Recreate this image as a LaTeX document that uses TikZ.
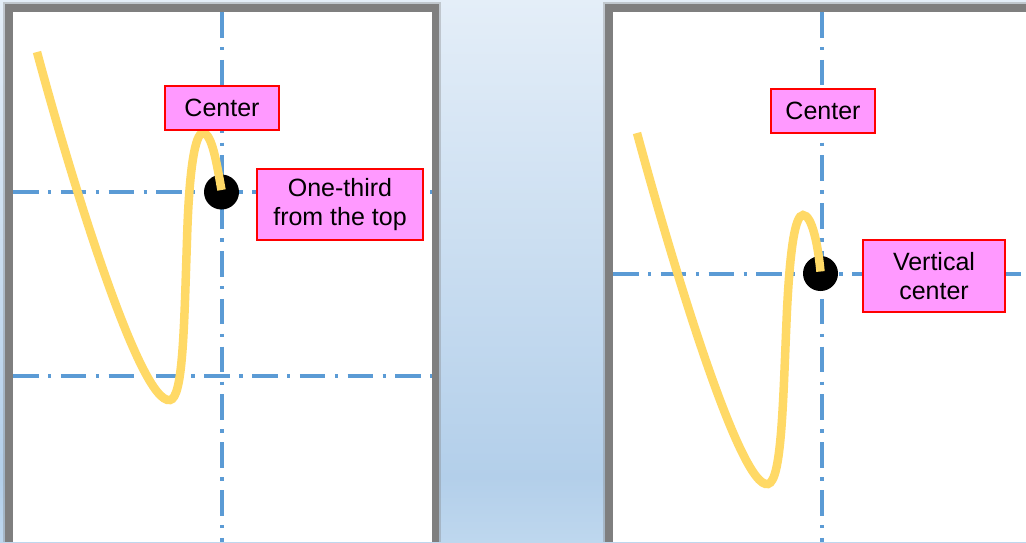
\documentclass[tikz,border=0pt]{standalone}
\usepackage{fontspec}
\setmainfont{Liberation Sans}
\definecolor{bgtop}{RGB}{228,238,248}
\definecolor{bgdark}{RGB}{179,207,234}
\definecolor{bgbot}{RGB}{190,215,238}
\definecolor{shadowgray}{RGB}{127,127,127}
\definecolor{guideblue}{RGB}{91,155,213}
\definecolor{curveyellow}{RGB}{255,217,102}
\definecolor{labelpink}{RGB}{255,153,255}
\pgfdeclareverticalshading{bgsh}{100bp}{color(0bp)=(bgbot); color(25bp)=(bgbot); color(31bp)=(bgdark); color(75bp)=(bgtop); color(100bp)=(bgtop)}
\begin{document}
\begin{tikzpicture}[x=1pt,y=-1pt,
  guide/.style={draw=guideblue, line width=3.2pt, dash pattern=on 25.5pt off 9.5pt on 3.3pt off 9.5pt},
  curve/.style={draw=curveyellow, line width=8.5pt, line cap=butt},
  dotmark/.style={circle, fill=black, minimum size=35pt, inner sep=0pt},
  lbl/.style={draw=red, fill=labelpink, line width=1.5pt, font=\fontsize{25}{29.5}\selectfont, align=center, inner sep=0pt},
  panelshadow/.style={fill=shadowgray, opacity=0.35},
  panelframe/.style={fill=shadowgray},
  panelface/.style={fill=white}]
\useasboundingbox (0,0) rectangle (1026,542);
\shade[shading=bgsh] (0,0) rectangle (1026,542);
% left panel
\fill[panelshadow] (3,2) rectangle (441,542);
\fill[panelframe] (5,4) rectangle (439,542);
\fill[panelface] (13,12) rectangle (432,542);
% right panel
\fill[panelshadow] (603,2) rectangle (1026,542);
\fill[panelframe] (605,4) rectangle (1026,542);
\fill[panelface] (613,12) rectangle (1026,542);
% guide lines left
\coordinate (gLtop) at (222,12);
\coordinate (gLbot) at (222,542);
\coordinate (gLa1) at (13,192);
\coordinate (gLa2) at (432,192);
\coordinate (gLb1) at (13,376);
\coordinate (gLb2) at (432,376);
\draw[guide] (gLtop) -- (gLbot);
\draw[guide] (gLa1) -- (gLa2);
\draw[guide] (gLb1) -- (gLb2);
% guide lines right
\coordinate (gRtop) at (822,12);
\coordinate (gRbot) at (822,542);
\coordinate (gRa1) at (613,274);
\coordinate (gRa2) at (1026,274);
\draw[guide] (gRtop) -- (gRbot);
\draw[guide] (gRa1) -- (gRa2);
% dots
\node[dotmark] (dotL) at (221.5,192) {};
\node[dotmark] (dotR) at (820.5,273.5) {};
% curves
\coordinate (startL) at (37,52);
\coordinate (startR) at (637,133);
\draw[curve] (startL) .. controls (70,175) and (140,405) .. (170,400)
  .. controls (183,398) and (184,330) .. (187,240)
  .. controls (189,170) and (195,133) .. (203,133)
  .. controls (212,133) and (217,165) .. ([yshift=2pt]dotL.center);
\draw[curve] (startR) .. controls (670,255) and (740,490) .. (768,484)
  .. controls (782,481) and (783,400) .. (787,310)
  .. controls (790,250) and (795,215) .. (803,215)
  .. controls (812,215) and (818,245) .. ([yshift=2pt]dotR.center);
% labels
\node[lbl, minimum width=114pt, minimum height=44pt] (cL) at (222,108) {Center};
\node[lbl, minimum width=166pt, minimum height=71pt] (thirdL) at (340,204.5) {One-third\\from the top};
\node[lbl, minimum width=104pt, minimum height=44pt] (cR) at (823,111) {Center};
\node[lbl, minimum width=142pt, minimum height=72pt] (vcR) at (934,276) {Vertical\\center};
\end{tikzpicture}
\end{document}
